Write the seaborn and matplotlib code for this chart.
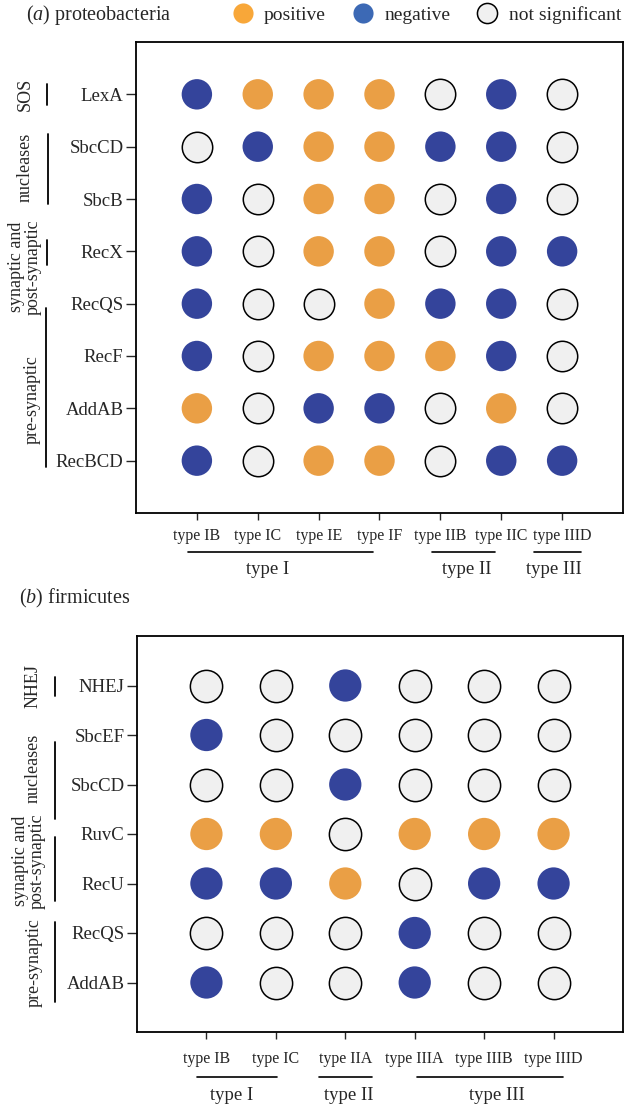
import numpy as np
import pandas as pd
import matplotlib as mpl
mpl.use('Agg')
import matplotlib.pyplot as plt
import matplotlib.transforms as mtransforms
from matplotlib.lines import Line2D
import seaborn as sns

################################################################################
# DATA
################################################################################

prot_genes = ['LexA', 'SbcCD', 'SbcB', 'RecX', 'RecQS', 'RecF', 'AddAB', 'RecBCD']
prot_types = ['type IB', 'type IC', 'type IE', 'type IF', 'type IIB', 'type IIC', 'type IIID']
prot_status = [
    ['neg', 'pos', 'pos', 'pos', 'ns',  'neg', 'ns'],
    ['ns',  'neg', 'pos', 'pos', 'neg', 'neg', 'ns'],
    ['neg', 'ns',  'pos', 'pos', 'ns',  'neg', 'ns'],
    ['neg', 'ns',  'pos', 'pos', 'ns',  'neg', 'neg'],
    ['neg', 'ns',  'ns',  'pos', 'neg', 'neg', 'ns'],
    ['neg', 'ns',  'pos', 'pos', 'pos', 'neg', 'ns'],
    ['pos', 'ns',  'neg', 'neg', 'ns',  'pos', 'ns'],
    ['neg', 'ns',  'pos', 'pos', 'ns',  'neg', 'neg'],
]
prot_groups = ['SOS', 'nucleases', 'synaptic and\npost-synaptic', 'pre-synaptic']
prot_classes = ['type I', 'type II', 'type III']

firm_genes = ['NHEJ', 'SbcEF', 'SbcCD', 'RuvC', 'RecU', 'RecQS', 'AddAB']
firm_types = ['type IB', 'type IC', 'type IIA', 'type IIIA', 'type IIIB', 'type IIID']
firm_status = [
    ['ns',  'ns',  'neg', 'ns',  'ns',  'ns'],
    ['neg', 'ns',  'ns',  'ns',  'ns',  'ns'],
    ['ns',  'ns',  'neg', 'ns',  'ns',  'ns'],
    ['pos', 'pos', 'ns',  'pos', 'pos', 'pos'],
    ['neg', 'neg', 'pos', 'ns',  'neg', 'neg'],
    ['ns',  'ns',  'ns',  'neg', 'ns',  'ns'],
    ['neg', 'ns',  'ns',  'neg', 'ns',  'ns'],
]
firm_groups = ['NHEJ', 'nucleases', 'synaptic and\npost-synaptic', 'pre-synaptic']
firm_classes = ['type I', 'type II', 'type III']

legend_labels = {'pos': 'positive', 'neg': 'negative', 'ns': 'not significant'}

################################################################################
# STYLE / LAYOUT
################################################################################

W, H = 626, 1104
colors = {'pos': '#EA9F45', 'neg': '#34449B', 'ns': '#F0F0F0'}
legend_colors = {'pos': '#F8A739', 'neg': '#3C69B5', 'ns': '#F0F0F0'}

sns.set_style('white')
plt.rcParams['font.family'] = ['Liberation Serif', 'DejaVu Serif']
plt.rcParams['mathtext.fontset'] = 'custom'
plt.rcParams['mathtext.rm'] = 'Liberation Serif'
plt.rcParams['mathtext.it'] = 'Liberation Serif:italic'


def fx(px):
    return px / W


def fy(py):
    return 1 - py / H


def draw_panel(fig, rect, genes, types, status, msize, xpad,
               groups, group_layout, classes, class_layout):
    ax = fig.add_axes(rect)
    rows = []
    for i, g in enumerate(genes):
        for j, t in enumerate(types):
            rows.append({'gene': i, 'type': j, 'status': status[i][j]})
    df = pd.DataFrame(rows)

    for s in ['pos', 'neg', 'ns']:
        sub = df[df['status'] == s]
        edge = 'black' if s == 'ns' else 'none'
        sns.scatterplot(data=sub, x='type', y='gene', ax=ax, color=colors[s],
                        s=msize, edgecolor=edge, linewidth=1.1 if s == 'ns' else 0,
                        legend=False, zorder=3)

    ax.set_xlim(-1, len(types))
    ax.set_ylim(len(genes), -1)
    ax.set_xticks(range(len(types)))
    ax.set_xticklabels(types, fontsize=11.5)
    ax.set_yticks(range(len(genes)))
    ax.set_yticklabels(genes, fontsize=13.5)
    ax.set_xlabel('')
    ax.set_ylabel('')
    ax.tick_params(axis='x', length=5, width=1, pad=xpad, bottom=True)
    ax.tick_params(axis='y', length=7, width=1, pad=2, left=True)
    for sp in ax.spines.values():
        sp.set_visible(True)
        sp.set_color('black')
        sp.set_linewidth(1.3)

    # functional groups on the left
    ty = mtransforms.blended_transform_factory(fig.transFigure, ax.transData)
    for label, (lx, y0, y1, tx, ty_c) in zip(groups, group_layout):
        ax.plot([fx(lx), fx(lx)], [y0, y1], color='black', lw=1.3,
                transform=ty, clip_on=False)
        ax.text(fx(tx), ty_c, label, rotation=90, ha='center', va='center',
                fontsize=13, linespacing=1.0, transform=ty)

    # CRISPR type classes below
    tx_ = mtransforms.blended_transform_factory(ax.transData, fig.transFigure)
    for label, (x0, x1, ly, lxc, lyc) in zip(classes, class_layout):
        ax.plot([x0, x1], [fy(ly), fy(ly)], color='black', lw=1.2,
                transform=tx_, clip_on=False)
        ax.text(lxc, fy(lyc), label, ha='center', va='center', fontsize=13.5,
                transform=tx_)
    return ax


fig = plt.figure(figsize=(W / 100, H / 100), dpi=100)

# (line x px, y0, y1 data, text x px, text y data)
prot_group_layout = [
    (47, -0.2, 0.2, 25, 0.0),
    (48, 0.76, 2.09, 25, 1.4),
    (47, 2.79, 3.26, 25, 3.3),
    (46, 4.08, 7.13, 32, 5.83),
]
# (x0, x1 data, line y px, text x data, text y px)
prot_class_layout = [
    (-0.15, 2.9, 552, 1.16, 569),
    (3.87, 4.89, 552, 4.43, 569),
    (5.54, 6.31, 552, 5.87, 569),
]
draw_panel(fig, [fx(136), fy(513), (623 - 136) / W, (513 - 42) / H],
           prot_genes, prot_types, prot_status, 480, 6,
           prot_groups, prot_group_layout, prot_classes, prot_class_layout)

firm_group_layout = [
    (55, -0.18, 0.22, 33, 0.0),
    (55, 1.14, 2.70, 33, 1.68),
    (55, 3.06, 4.36, 29, 3.55),
    (55, 4.78, 6.40, 34, 5.6),
]
firm_class_layout = [
    (-0.14, 1.02, 1077, 0.37, 1095),
    (1.62, 2.39, 1077, 2.05, 1095),
    (3.03, 5.14, 1077, 4.18, 1095),
]
draw_panel(fig, [fx(137), fy(1032), (623 - 137) / W, (1032 - 636) / H],
           firm_genes, firm_types, firm_status, 540, 9,
           firm_groups, firm_group_layout, firm_classes, firm_class_layout)

# panel titles
fig.text(fx(26), fy(15), '($a$) proteobacteria', fontsize=14.5, va='center', ha='left')
fig.text(fx(19), fy(598), '($b$) firmicutes', fontsize=14.5, va='center', ha='left')

# legend
handles = []
for s in ['pos', 'neg', 'ns']:
    handles.append(Line2D([], [], ls='none', marker='o', markersize=14.5,
                          markerfacecolor=legend_colors[s],
                          markeredgecolor='black' if s == 'ns' else 'none',
                          markeredgewidth=1.1, label=legend_labels[s]))
fig.legend(handles=handles, loc='center', ncol=3, frameon=False,
           bbox_to_anchor=(fx(427), fy(15)), fontsize=14, borderpad=0,
           handlelength=1.0, handletextpad=0.6, columnspacing=1.4)

fig.savefig('out.png', dpi=100)
